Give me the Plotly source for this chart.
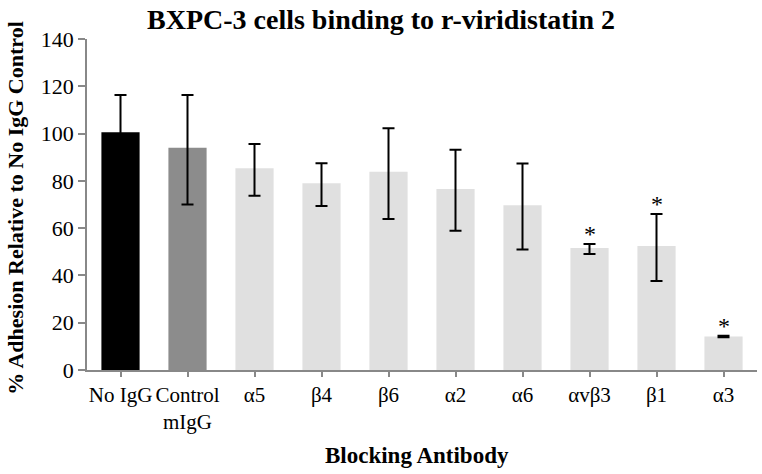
import plotly.graph_objects as go

categories = ["No IgG", "Control<br>mIgG", "α5", "β4", "β6", "α2", "α6", "αvβ3", "β1", "α3"]
values = [100.6, 94.0, 85.3, 79.0, 83.8, 76.6, 69.7, 51.6, 52.4, 14.2]
err_plus = [15.7, 22.3, 10.3, 8.5, 18.4, 16.6, 17.6, 1.7, 13.6, 0.3]
err_minus = [15.7, 24.0, 11.6, 9.6, 19.9, 17.7, 18.7, 2.5, 14.8, 0.3]
bar_colors = ["#000000", "#8c8c8c", "#e0e0e0", "#e0e0e0", "#e0e0e0", "#e0e0e0", "#e0e0e0", "#e0e0e0", "#e0e0e0", "#e0e0e0"]
significant = [False, False, False, False, False, False, False, True, True, True]
y_ticks = [0, 20, 40, 60, 80, 100, 120, 140]

FONT = "Liberation Serif, Times New Roman, serif"

fig = go.Figure()
fig.add_trace(go.Bar(
    x=categories,
    y=values,
    marker=dict(color=bar_colors, line=dict(width=0)),
    width=0.57,
    error_y=dict(type="data", symmetric=False, array=err_plus, arrayminus=err_minus,
                 color="#000000", thickness=2, width=6),
))

for cat, v, e, s in zip(categories, values, err_plus, significant):
    if s:
        fig.add_annotation(x=cat, y=v + e, text="*", showarrow=False, yanchor="bottom",
                           yshift=-5, font=dict(family=FONT, size=24, color="#000000"))

# axis titles placed as annotations for exact positioning
fig.add_annotation(text="<b>Blocking Antibody</b>", xref="paper", yref="paper", x=0.4925, y=0,
                   yshift=-85, xanchor="center", yanchor="middle", showarrow=False,
                   font=dict(family=FONT, size=23, color="#000000"))
fig.add_annotation(text="<b>% Adhesion Relative to No IgG Control</b>", xref="paper", yref="paper",
                   x=0, xshift=-71, y=0.49, xanchor="center", yanchor="middle", textangle=-90,
                   showarrow=False, font=dict(family=FONT, size=22, color="#000000"))

fig.update_layout(
    width=762, height=474,
    margin=dict(l=87, r=5, t=39, b=104, autoexpand=False),
    paper_bgcolor="white", plot_bgcolor="white",
    showlegend=False,
    title=dict(text="<b>BXPC-3 cells binding to r-viridistatin 2</b>", x=0.5, xref="container",
               xanchor="center", y=0.960, yref="container", yanchor="middle",
               font=dict(family=FONT, size=28, color="#000000")),
    font=dict(family=FONT, color="#000000"),
)
fig.update_xaxes(
    range=[-0.5, 9.5], showline=True, linecolor="#888888", linewidth=1.5,
    ticks="outside", ticklen=5, tickcolor="#888888", tickwidth=1.5, tickangle=0,
    tickfont=dict(family=FONT, size=21, color="#000000"),
    showgrid=False, zeroline=False, automargin=False,
)
fig.update_yaxes(
    range=[0, 140], tickvals=y_ticks, showline=True, linecolor="#888888", linewidth=1.5,
    ticks="outside", ticklen=7, tickcolor="#888888", tickwidth=1.5,
    tickfont=dict(family=FONT, size=22, color="#000000"),
    showgrid=False, zeroline=False, automargin=False,
)

fig.write_html("out.html", config={"displayModeBar": False},
               post_script="document.body.style.margin='0';document.body.style.overflow='hidden';")
